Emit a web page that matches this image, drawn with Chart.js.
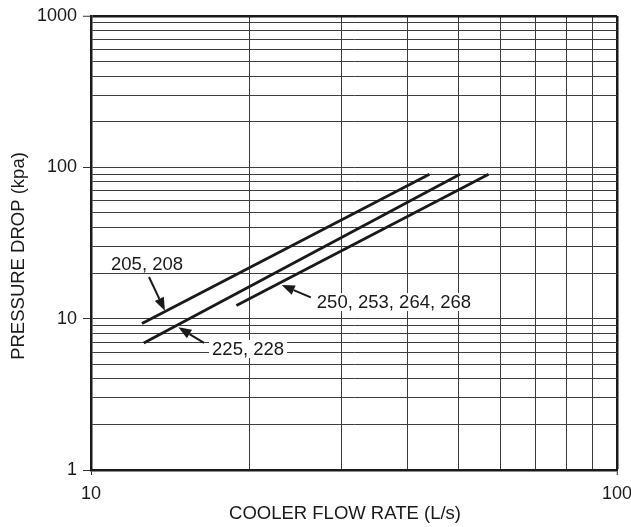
<!DOCTYPE html>
<html>
<head>
<meta charset="utf-8">
<script src="https://cdn.jsdelivr.net/npm/chart.js@4.4.0/dist/chart.umd.min.js"></script>
<style>
  html, body { margin: 0; padding: 0; background: #fff; }
</style>
</head>
<body>
<canvas id="chart" width="631" height="527"></canvas>
<script>
// cooler flow (L/s) vs pressure drop (kPa), two points per model group
const flow205 = [12.5, 44];
const drop205 = [9.3, 90];
const flow225 = [12.6, 50.3];
const drop225 = [6.9, 90];
const flow250 = [18.9, 57];
const drop250 = [12.2, 90];

const xGridValues = [10, 20, 30, 40, 50, 60, 70, 80, 90, 100];
const yGridValues = [1, 2, 3, 4, 5, 6, 7, 8, 9, 10, 20, 30, 40, 50, 60, 70, 80, 90,
  100, 200, 300, 400, 500, 600, 700, 800, 900, 1000];
const xTickLabels = [10, 100];
const yTickLabels = [1, 10, 100, 1000];

const xTitle = "COOLER FLOW RATE (L/s)";
const yTitle = "PRESSURE DROP (kpa)";

// callout text + arrow, in data coordinates
const callouts = [
  { text: "205, 208", at: [12.78, 22.97], from: [12.89, 18.85], to: [13.82, 11.3] },
  { text: "225, 228", at: [19.89, 6.30], from: [16.40, 6.91], to: [14.66, 8.77] },
  { text: "250, 253, 264, 268", at: [37.67, 12.89], from: [26.17, 13.84], to: [23.04, 16.69] },
];

const FONT = '"Liberation Sans", Arial, Helvetica, sans-serif';
const INK = "#1a1a1a";

function toPoints(xs, ys) {
  return xs.map((x, i) => ({ x: x, y: ys[i] }));
}

function lineSet(label, xs, ys) {
  return {
    label: label,
    data: toPoints(xs, ys),
    showLine: true,
    borderColor: INK,
    borderWidth: 2.8,
    pointRadius: 0,
    borderCapStyle: "butt",
  };
}

const calloutPlugin = {
  id: "callouts",
  afterDatasetsDraw(chart) {
    const { ctx, chartArea, scales } = chart;
    const xs = scales.x, ys = scales.y;
    ctx.save();
    ctx.font = "18.5px " + FONT;
    ctx.textAlign = "center";
    ctx.textBaseline = "middle";
    callouts.forEach((c) => {
      const cx = xs.getPixelForValue(c.at[0]);
      const cy = ys.getPixelForValue(c.at[1]);
      const w = ctx.measureText(c.text).width;
      ctx.fillStyle = "#fff";
      ctx.fillRect(cx - w / 2 - 3, cy - 9, w + 6, 18);
      ctx.fillStyle = INK;
      ctx.fillText(c.text, cx, cy + 1);

      // arrow
      const x1 = xs.getPixelForValue(c.from[0]);
      const y1 = ys.getPixelForValue(c.from[1]);
      const x2 = xs.getPixelForValue(c.to[0]);
      const y2 = ys.getPixelForValue(c.to[1]);
      const ang = Math.atan2(y2 - y1, x2 - x1);
      const head = 13, half = 5;
      const bx = x2 - head * Math.cos(ang), by = y2 - head * Math.sin(ang);
      ctx.strokeStyle = INK;
      ctx.lineWidth = 2;
      ctx.beginPath();
      ctx.moveTo(x1, y1);
      ctx.lineTo(bx, by);
      ctx.stroke();
      ctx.beginPath();
      ctx.moveTo(x2, y2);
      ctx.lineTo(bx + half * Math.sin(ang), by - half * Math.cos(ang));
      ctx.lineTo(bx - half * Math.sin(ang), by + half * Math.cos(ang));
      ctx.closePath();
      ctx.fill();
    });

    // axis titles
    ctx.font = "18.5px " + FONT;
    ctx.fillStyle = INK;
    ctx.fillText(xTitle, (chartArea.left + chartArea.right) / 2 - 9, chart.height - 13);
    ctx.translate(19, (chartArea.top + chartArea.bottom) / 2 + 13);
    ctx.rotate(-Math.PI / 2);
    ctx.fillText(yTitle, 0, 0);
    ctx.restore();
  },
};

const ctx = document.getElementById("chart").getContext("2d");
new Chart(ctx, {
  type: "scatter",
  data: {
    datasets: [
      lineSet("205, 208", flow205, drop205),
      lineSet("225, 228", flow225, drop225),
      lineSet("250, 253, 264, 268", flow250, drop250),
    ],
  },
  options: {
    responsive: false,
    animation: false,
    devicePixelRatio: 1,
    layout: { padding: { top: 16, right: 14, left: 0, bottom: 0 } },
    plugins: {
      legend: { display: false },
      tooltip: { enabled: false },
    },
    scales: {
      x: {
        type: "logarithmic",
        position: "bottom",
        min: 10,
        max: 100,
        afterBuildTicks: (scale) => {
          scale.ticks = xGridValues.map((v) => ({ value: v }));
        },
        afterFit: (scale) => {
          scale.height = 57;
          scale.paddingLeft = 0;
          scale.paddingRight = 0;
        },
        ticks: {
          autoSkip: false,
          maxRotation: 0,
          padding: 8,
          color: INK,
          font: { family: FONT, size: 18 },
          callback: (v) => (xTickLabels.includes(v) ? String(v) : ""),
        },
        grid: {
          color: (c) => (c.tick && c.tick.value === 100 ? INK : "#3c3c3c"),
          lineWidth: (c) => (c.tick && c.tick.value === 100 ? 2.5 : 1),
          tickColor: (c) => (c.tick && xTickLabels.includes(c.tick.value) ? "#333" : "rgba(0,0,0,0)"),
          tickWidth: 1,
          tickLength: 5,
        },
        border: { display: true, color: INK, width: 2.5 },
      },
      y: {
        type: "logarithmic",
        min: 1,
        max: 1000,
        afterBuildTicks: (scale) => {
          scale.ticks = yGridValues.map((v) => ({ value: v }));
        },
        afterFit: (scale) => {
          scale.width = 91;
          scale.paddingTop = 0;
          scale.paddingBottom = 0;
        },
        ticks: {
          autoSkip: false,
          padding: 6,
          color: INK,
          font: { family: FONT, size: 18 },
          callback: (v) => (yTickLabels.includes(v) ? String(v) : ""),
        },
        grid: {
          color: (c) => (c.tick && c.tick.value === 1000 ? INK : "#3c3c3c"),
          lineWidth: (c) => (c.tick && c.tick.value === 1000 ? 2.5 : 1),
          tickColor: (c) => (c.tick && yTickLabels.includes(c.tick.value) ? "#333" : "rgba(0,0,0,0)"),
          tickWidth: 1,
          tickLength: 8,
        },
        border: { display: true, color: INK, width: 2.5 },
      },
    },
  },
  plugins: [calloutPlugin],
});
</script>
</body>
</html>
